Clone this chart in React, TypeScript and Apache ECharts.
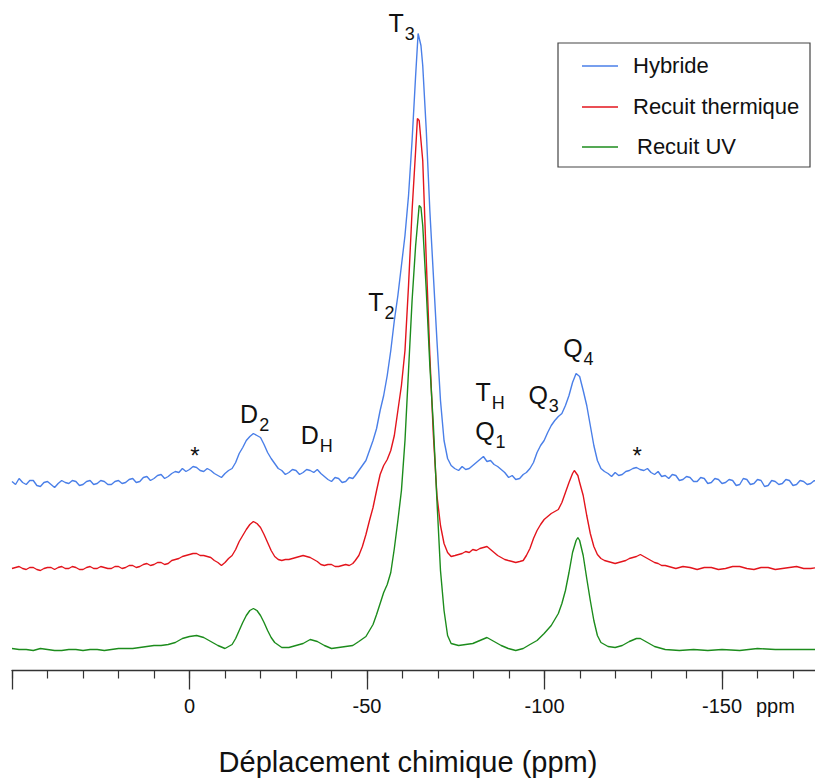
import React, { useEffect, useRef } from "react";
import * as echarts from "echarts";

// ---------- data ----------
const PPM_MIN = -180;
const PPM_MAX = 50;
const MINOR_STEP = 10;
const MAJOR_TICKS = [50, 0, -50, -100, -150];
const TICK_LABELS = [0, -50, -100, -150];
const UNIT_LABEL = "ppm";
const AXIS_TITLE = "Déplacement chimique (ppm)";

const SERIES_NAMES = ["Hybride", "Recuit thermique", "Recuit UV"];
const SERIES_COLORS = ["#4a7fe8", "#e3141c", "#1c8c1c"];
const SERIES_OFFSETS = [187, 102, 20];

// [ppm, intensity above own baseline]
const HYBRIDE: [number, number][] = [
  [50, 2], [49, -1], [48, 5], [47, 1], [46, -1], [45, 3], [44, 3], [43, -2], [42, -3], [41, 1],
  [40, 2], [39, -1], [38, -4], [37, 0], [36, 3], [35, 1], [34, 0], [33, 3], [32, 2], [31, -2],
  [30, -1], [29, 2], [28, 3], [27, -1], [26, 0], [25, 3], [24, 2], [23, -1], [22, -1], [21, 2],
  [20, 3], [19, 0], [18, 1], [17, 4], [16, 5], [15, 1], [14, 2], [13, 6], [12, 7], [11, 3],
  [10, 5], [9, 8], [8, 9], [7, 5], [6, 7], [5, 10], [4, 12], [3, 11], [2, 15], [1, 12], [0, 14],
  [-1, 17], [-2, 16], [-3, 13], [-4, 12], [-5, 15], [-6, 13], [-7, 10], [-8, 8], [-9, 6],
  [-10, 10], [-11, 13], [-12, 15], [-13, 21], [-14, 30], [-15, 36], [-16, 43], [-17, 47],
  [-18, 50], [-19, 48], [-20, 46], [-21, 39], [-22, 31], [-23, 25], [-24, 20], [-25, 15],
  [-26, 13], [-27, 9], [-28, 11], [-29, 14], [-30, 13], [-31, 9], [-32, 11], [-33, 14], [-34, 13],
  [-35, 11], [-36, 14], [-37, 10], [-38, 7], [-39, 4], [-40, 2], [-41, 6], [-42, 5], [-43, 1],
  [-44, 2], [-45, 6], [-46, 5],
  [-46.7, 8], [-47.7, 13], [-48.7, 18], [-49.7, 23], [-50.7, 33], [-51.7, 43], [-52.7, 55],
  [-53.7, 73], [-54.7, 88], [-55.7, 108], [-56.7, 133], [-57.7, 163], [-58.7, 188], [-59.7, 218],
  [-60.7, 248], [-61.7, 288], [-62.7, 343], [-63.7, 408], [-64.4, 450], [-65.2, 438], [-65.7, 418],
  [-66.7, 353], [-67.7, 273], [-68.7, 208], [-69.7, 143], [-70.7, 83], [-71.7, 43], [-72.7, 25],
  [-73.7, 18], [-74.7, 15], [-75.8, 13], [-76.8, 17], [-77.8, 14], [-78.8, 15], [-79.8, 18],
  [-80.8, 21], [-81.8, 24], [-82.8, 27], [-83.8, 22], [-84.8, 23], [-85.8, 19], [-86.8, 17],
  [-87.8, 14], [-88.8, 11], [-89.9, 6], [-90.9, 8], [-91.9, 4], [-93, 5], [-94, 9],
  [-94.9, 11], [-95.9, 15], [-96.9, 21], [-97.9, 31], [-98.9, 38], [-99.9, 43], [-100.9, 51],
  [-101.9, 58], [-102.9, 63], [-103.9, 67], [-104.9, 70], [-105.9, 78], [-106.9, 88], [-107.9, 101],
  [-108.9, 110], [-109.9, 107], [-110.9, 93], [-111.9, 78], [-112.9, 58], [-113.9, 38],
  [-114.9, 23], [-115.9, 15], [-116.9, 12], [-117.9, 10], [-118.9, 7], [-119.9, 11], [-120.9, 8],
  [-121.9, 9], [-122.9, 12], [-123.9, 13], [-124.9, 15], [-125.9, 16], [-126.9, 14], [-128, 13],
  [-129, 15], [-130, 11], [-131, 9], [-132, 12], [-133, 7], [-134, 8], [-135, 5], [-136, 9],
  [-137, 8], [-138, 3], [-139, 4], [-140, 7], [-141, 6], [-142, 2], [-143, 2], [-144, 6],
  [-145, 5], [-146, 0], [-147, 1], [-148, 5], [-149, 4], [-150, 0], [-151, 1], [-152, 4],
  [-153, 3], [-154, -2], [-155, -1], [-156, 5], [-157, 4], [-158, -1], [-159, 0], [-160, 4],
  [-161, 3], [-162, -3], [-163, -2], [-164, 3], [-165, 2], [-166, -1], [-167, 0], [-168, 4],
  [-169, 3], [-170, -2], [-171, -1], [-172, 3], [-173, 2], [-174, -1], [-175, 0], [-176, 3],
  [-177, 1], [-178, -1], [-179, 2], [-180, 0],
];

const RECUIT_THERMIQUE: [number, number][] = [
  [50, 0], [49, 1], [48, 2], [47, 0], [46, -1], [45, 1], [44, 1], [43, -1], [42, -2], [41, 0],
  [40, 1], [39, 1], [38, -1], [37, 1], [36, 2], [35, 0], [34, 0], [33, 2], [32, 1], [31, -1],
  [30, -1], [29, 1], [28, 2], [27, 0], [26, 0], [25, 2], [24, 1], [23, 0], [22, 0], [21, 2],
  [20, 2], [19, 0], [18, 1], [17, 3], [16, 3], [15, 1], [14, 2], [13, 4], [12, 5], [11, 3],
  [10, 4], [9, 6], [8, 6], [7, 4], [6, 5], [5, 8], [4, 9], [3, 10], [2, 12], [1, 13], [0, 14],
  [-1, 15], [-2, 15], [-3, 13], [-4, 13], [-5, 12], [-6, 11], [-7, 8], [-8, 6], [-9, 3],
  [-10, 6], [-11, 10], [-12, 13], [-13, 19], [-14, 27], [-15, 33], [-16, 39], [-17, 44], [-18, 47],
  [-19, 45], [-20, 41], [-21, 34], [-22, 26], [-23, 18], [-24, 12], [-25, 9], [-26, 8], [-27, 9],
  [-28, 9], [-29, 10], [-30, 11], [-31, 12], [-32, 13], [-33, 12], [-34, 11], [-35, 9], [-36, 7],
  [-37, 4], [-38, 3], [-39, 4], [-40, 4], [-41, 2], [-42, 2], [-43, 3], [-44, 4], [-45, 3], [-46, 5],
  [-46.7, 8], [-47.7, 13], [-48.7, 22], [-49.7, 34], [-50.7, 48], [-51.7, 61], [-52.7, 78],
  [-53.7, 94], [-54.7, 103], [-55.7, 109], [-56.7, 118], [-57.7, 133], [-58.7, 158], [-59.7, 183],
  [-60.7, 218], [-61.7, 283], [-62.7, 358], [-63.7, 418], [-64.2, 450], [-64.7, 448], [-65.7, 408],
  [-66.7, 308], [-67.7, 213], [-68.7, 133], [-69.7, 73], [-70.7, 43], [-71.7, 25], [-72.7, 16],
  [-73.7, 12], [-74.8, 13], [-75.8, 14], [-76.8, 15], [-77.8, 17], [-78.8, 16], [-79.8, 19],
  [-80.8, 18], [-81.8, 20], [-82.8, 21], [-83.8, 22], [-84.8, 19], [-85.8, 16], [-86.8, 13],
  [-87.8, 11], [-88.8, 9], [-89.8, 8], [-90.9, 7], [-91.9, 6], [-93, 7], [-94, 8],
  [-94.9, 13], [-95.9, 20], [-96.9, 30], [-97.9, 38], [-98.9, 44], [-99.9, 49], [-100.9, 52],
  [-101.9, 55], [-102.9, 57], [-103.9, 59], [-104.9, 66], [-105.9, 76], [-106.9, 86], [-107.9, 95],
  [-108.4, 98], [-109.4, 93], [-109.9, 86], [-110.9, 73], [-111.9, 53], [-112.9, 35], [-113.9, 22],
  [-114.9, 14], [-115.9, 10], [-116.9, 8], [-117.9, 7], [-118.9, 6], [-119.9, 5], [-120.9, 6],
  [-121.9, 7], [-122.9, 8], [-123.9, 10], [-124.9, 11], [-125.9, 12], [-127, 14], [-128, 12],
  [-129, 10], [-130, 8], [-131, 6], [-132, 5], [-133, 3], [-134, 3], [-135, 2], [-136, 1],
  [-137, 0], [-139, 2], [-141, 1], [-143, -1], [-145, 1], [-147, 1], [-149, -1], [-151, 0],
  [-153, 2], [-155, 2], [-157, 0], [-159, -1], [-161, 1], [-163, 1], [-165, -1], [-167, 0],
  [-169, 1], [-171, 2], [-173, 0], [-175, 0], [-177, 1], [-180, 1],
];

const RECUIT_UV: [number, number][] = [
  [50, 2], [48, 1], [46, 1], [44, 0], [42, 2], [40, 1], [38, 0], [36, 0], [34, 1], [32, 1],
  [30, 0], [28, 1], [26, 1], [24, 0], [22, 1], [20, 2], [18, 2], [16, 2], [14, 3], [12, 4],
  [10, 5], [8, 5], [6, 6], [4, 8], [2, 12], [0, 14], [-2, 15], [-4, 13], [-6, 9], [-8, 5], [-10, 2],
  [-12, 6], [-13, 12], [-14, 20], [-15, 28], [-16, 35], [-17, 40], [-18, 42], [-19, 40], [-20, 35],
  [-21, 28], [-22, 20], [-23, 13], [-24, 8], [-26, 3], [-28, 3], [-30, 5], [-32, 7], [-34, 11],
  [-36, 9], [-38, 5], [-40, 2], [-42, 3], [-44, 4], [-46, 5], [-47.7, 9], [-49.7, 14],
  [-51.7, 26], [-52.7, 36], [-53.7, 47], [-54.7, 58], [-55.7, 66], [-56.7, 78], [-57.7, 102],
  [-58.7, 130], [-59.7, 160], [-60.7, 210], [-61.7, 280], [-62.7, 350], [-63.7, 405], [-64.7, 445],
  [-65.2, 443], [-65.7, 425], [-66.7, 360], [-67.7, 285], [-68.7, 225], [-69.7, 150], [-70.7, 80],
  [-71.7, 40], [-72.7, 15], [-73.7, 7], [-75.8, 5], [-77.8, 6], [-79.8, 7], [-81.8, 10],
  [-83.8, 13], [-85.8, 9], [-87.8, 5], [-89.8, 2], [-91.9, 0], [-94, 2], [-95.9, 6], [-97.9, 10],
  [-99.9, 17], [-101.9, 25], [-103.9, 37], [-104.9, 47], [-105.9, 60], [-106.9, 78], [-107.9, 98],
  [-108.9, 110], [-109.4, 113], [-109.9, 110], [-110.9, 95], [-111.9, 72], [-112.9, 50],
  [-113.9, 30], [-114.9, 15], [-115.9, 8], [-117.9, 4], [-119.9, 3], [-121.9, 5], [-123.9, 9],
  [-125.9, 12], [-127, 12], [-129, 8], [-131, 4], [-134, 1], [-138, 0], [-142, 1], [-146, 0],
  [-150, 1], [-155, 0], [-160, 2], [-165, 1], [-170, 1], [-175, 1], [-180, 1],
];

const SERIES_DATA = [HYBRIDE, RECUIT_THERMIQUE, RECUIT_UV];

// peak annotations: main letter, subscript, anchor [ppm, height]
const PEAK_MAIN = ["T", "T", "D", "D", "T", "Q", "Q", "Q"];
const PEAK_SUB = ["3", "2", "2", "H", "H", "1", "3", "4"];
const PEAK_PPM = [-58.2, -52.5, -16.8, -33.9, -82.7, -83.2, -98.2, -108.0];
const PEAK_HEIGHT = [647.5, 368.5, 256.5, 235.5, 278.5, 239.5, 275.5, 322.5];
const STAR_PPM = [-1.5, -126.1];
const STAR_HEIGHT = [215, 215];

const FONT = "'Liberation Sans', Arial, Helvetica, sans-serif";

export default function App() {
  const ref = useRef<HTMLDivElement>(null);

  useEffect(() => {
    if (!ref.current) return;
    document.body.style.margin = "0";
    const chart = echarts.init(ref.current, null, { renderer: "svg" });

    const pxPerPpm = 3.55;
    const grid = {
      left: 12,
      top: 20.5,
      width: (PPM_MAX - PPM_MIN) * pxPerPpm,
      height: 650,
      containLabel: false,
      outerBoundsMode: "none",
    };

    const series = SERIES_NAMES.map((name, i) => ({
      name,
      type: "line",
      xAxisIndex: 0,
      yAxisIndex: 0,
      symbol: "none",
      clip: true,
      lineStyle: { color: SERIES_COLORS[i], width: 1.4 },
      itemStyle: { color: SERIES_COLORS[i] },
      data: SERIES_DATA[i].map(([p, v]) => [p, v + SERIES_OFFSETS[i]]),
    }));

    const axisColor = "#333";
    chart.setOption({
      animation: false,
      grid,
      xAxis: [
        {
          type: "value",
          position: "bottom",
          inverse: true,
          min: PPM_MIN,
          max: PPM_MAX,
          interval: MINOR_STEP,
          axisLine: { show: true, lineStyle: { color: axisColor, width: 1.3 } },
          axisTick: { show: true, length: 8, lineStyle: { color: axisColor, width: 1.2 } },
          axisLabel: { show: false },
          splitLine: { show: false },
        },
        {
          type: "value",
          position: "bottom",
          inverse: true,
          min: PPM_MIN,
          max: PPM_MAX,
          axisLine: { show: false },
          axisTick: {
            show: true,
            length: 19,
            customValues: MAJOR_TICKS,
            lineStyle: { color: axisColor, width: 1.3 },
          },
          axisLabel: {
            show: true,
            customValues: TICK_LABELS,
            margin: 25,
            fontSize: 20,
            fontFamily: FONT,
            color: "#111",
          },
          splitLine: { show: false },
        },
      ],
      yAxis: { type: "value", min: 0, max: 650, show: false },
      series,
    });

    const toPx = (ppm: number, h: number) =>
      chart.convertToPixel({ xAxisIndex: 0, yAxisIndex: 0 }, [ppm, h]) as number[];

    const measure = (() => {
      const ctx = document.createElement("canvas").getContext("2d");
      return (s: string, size: number) => {
        if (!ctx) return size * 0.7;
        ctx.font = `${size}px ${FONT}`;
        return ctx.measureText(s).width;
      };
    })();

    const elements: any[] = [];

    const txt = (x: number, y: number, text: string, size: number, align = "center") => ({
      type: "text",
      x,
      y,
      style: {
        text,
        fill: "#111",
        fontSize: size,
        fontFamily: FONT,
        align,
        verticalAlign: "middle",
        textAlign: align,
        textVerticalAlign: "middle",
      },
    });

    const MAIN_SIZE = 25;
    const SUB_SIZE = 18;
    PEAK_MAIN.forEach((m, i) => {
      const [x, y] = toPx(PEAK_PPM[i], PEAK_HEIGHT[i]);
      const hw = measure(m, MAIN_SIZE) / 2;
      elements.push(txt(x, y, m, MAIN_SIZE));
      elements.push(txt(x + hw + 1, y + 11, PEAK_SUB[i], SUB_SIZE, "left"));
    });
    STAR_PPM.forEach((p, i) => {
      const [x, y] = toPx(p, STAR_HEIGHT[i]);
      elements.push(txt(x, y, "*", 24));
    });

    // unit label next to tick labels
    elements.push(txt(756, 706, UNIT_LABEL, 20, "left"));
    // axis title
    elements.push(txt(408, 762, AXIS_TITLE, 29));

    // legend box
    const lx = 558, ly = 43, lw = 252, lh = 124;
    elements.push({
      type: "rect",
      shape: { x: lx, y: ly, width: lw, height: lh },
      style: { fill: "#fff", stroke: "#444", lineWidth: 1.2 },
      z: 10,
    });
    const rowY = [66, 107, 147];
    const textX = [633, 633, 637];
    SERIES_NAMES.forEach((name, i) => {
      elements.push({
        type: "line",
        shape: { x1: 582, y1: rowY[i], x2: 618, y2: rowY[i] },
        style: { stroke: SERIES_COLORS[i], lineWidth: 1.5 },
        z: 11,
      });
      elements.push({ ...txt(textX[i], rowY[i] - 1, name, 22, "left"), z: 11 });
    });

    chart.setOption({ graphic: { elements } });

    return () => chart.dispose();
  }, []);

  return (
    <div
      ref={ref}
      style={{ position: "fixed", left: 0, top: 0, width: 815, height: 781, background: "#fff" }}
    />
  );
}
